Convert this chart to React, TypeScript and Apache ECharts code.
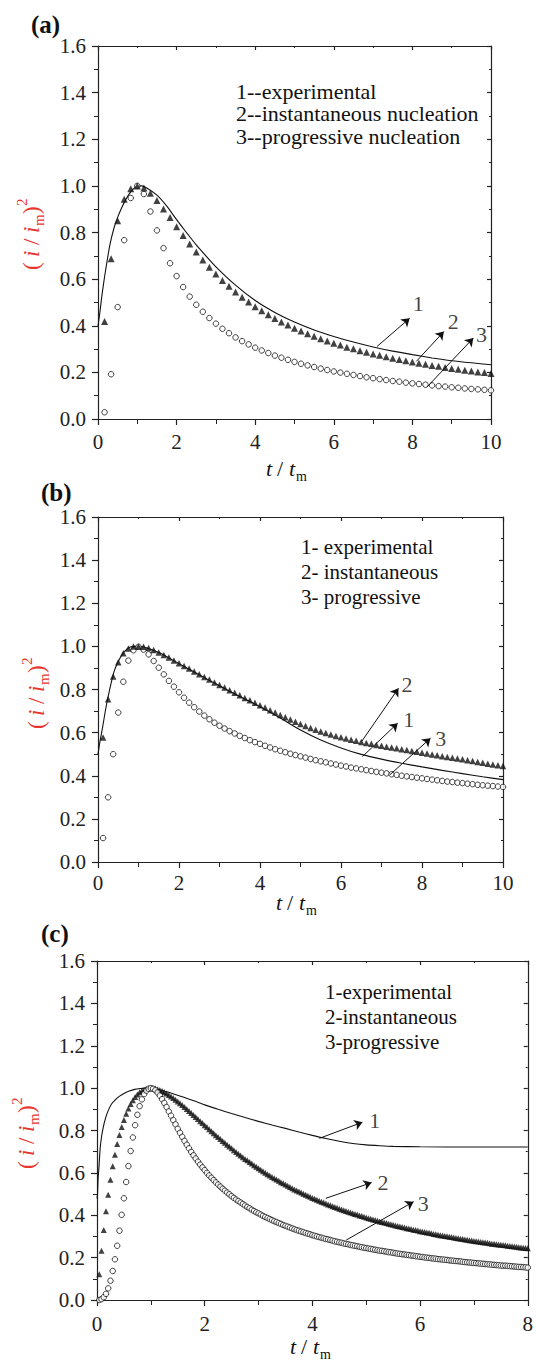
import { useEffect, useRef } from 'react';
import * as echarts from 'echarts';

// ---------- sampling times (uniform time grids of the theoretical curves) ----------
const tA = Array.from({ length: 60 }, (_, i) => (i + 1) / 6);
const tB = Array.from({ length: 80 }, (_, i) => (i + 1) / 8);
const tC = Array.from({ length: 192 }, (_, i) => (i + 1) / 24);

// ---------- panel (a) ----------
const instA = [
  0.418, 0.687, 0.850, 0.943, 0.988, 1.000, 0.991, 0.968, 0.937, 0.901,
  0.864, 0.825, 0.787, 0.751, 0.716, 0.682, 0.651, 0.622, 0.594, 0.569,
  0.545, 0.522, 0.502, 0.482, 0.464, 0.447, 0.431, 0.416, 0.403, 0.389,
  0.377, 0.366, 0.355, 0.344, 0.335, 0.325, 0.317, 0.308, 0.301, 0.293,
  0.286, 0.279, 0.273, 0.267, 0.261, 0.255, 0.250, 0.244, 0.239, 0.235,
  0.230, 0.226, 0.221, 0.217, 0.213, 0.209, 0.206, 0.202, 0.199, 0.195,
];
const progA = [
  0.029, 0.192, 0.480, 0.767, 0.948, 1.000, 0.965, 0.890, 0.809, 0.733,
  0.668, 0.613, 0.566, 0.525, 0.490, 0.460, 0.433, 0.409, 0.387, 0.368,
  0.350, 0.334, 0.320, 0.306, 0.294, 0.283, 0.272, 0.263, 0.254, 0.245,
  0.237, 0.230, 0.223, 0.216, 0.210, 0.204, 0.199, 0.194, 0.189, 0.184,
  0.179, 0.175, 0.171, 0.167, 0.163, 0.160, 0.156, 0.153, 0.150, 0.147,
  0.144, 0.141, 0.139, 0.136, 0.134, 0.131, 0.129, 0.127, 0.125, 0.123,
];
const expTA = [0, 0.05, 0.1, 0.15, 0.2, 0.3, 0.4, 0.5, 0.6, 0.7, 0.8, 0.9, 1.0, 1.1, 1.25, 1.5, 1.75, 2.0, 2.25, 2.5, 2.75, 3.0, 3.5, 4.0, 4.5, 5.0, 5.5, 6.0, 6.5, 7.0, 7.5, 8.0, 8.5, 9.0, 9.5, 10];
const expVA = [0.40, 0.46, 0.53, 0.59, 0.645, 0.745, 0.815, 0.865, 0.905, 0.94, 0.967, 0.987, 0.998, 1.0, 0.99, 0.96, 0.913, 0.855, 0.80, 0.747, 0.699, 0.653, 0.574, 0.508, 0.457, 0.416, 0.382, 0.354, 0.33, 0.309, 0.291, 0.276, 0.262, 0.25, 0.241, 0.233];
const arrowsA = [
  { from: [7.1, 0.311], to: [7.93, 0.432], label: '1', at: [8.15, 0.497] },
  { from: [8.1, 0.247], to: [8.8, 0.375], label: '2', at: [9.04, 0.418] },
  { from: [8.37, 0.137], to: [9.55, 0.347], label: '3', at: [9.76, 0.361] },
];

// ---------- panel (b) ----------
const instB = [
  0.577, 0.755, 0.860, 0.926, 0.968, 0.990, 0.999, 1.000,
  0.998, 0.992, 0.983, 0.972, 0.960, 0.948, 0.935, 0.922,
  0.909, 0.897, 0.884, 0.871, 0.858, 0.846, 0.833, 0.821,
  0.809, 0.797, 0.785, 0.773, 0.761, 0.750, 0.738, 0.727,
  0.716, 0.704, 0.693, 0.682, 0.671, 0.661, 0.650, 0.640,
  0.631, 0.622, 0.613, 0.605, 0.598, 0.591, 0.584, 0.578,
  0.573, 0.567, 0.562, 0.557, 0.552, 0.548, 0.543, 0.539,
  0.535, 0.531, 0.527, 0.523, 0.519, 0.515, 0.511, 0.507,
  0.503, 0.499, 0.495, 0.491, 0.487, 0.483, 0.480, 0.476,
  0.472, 0.468, 0.464, 0.460, 0.456, 0.452, 0.449, 0.445,
];
const progB = [
  0.111, 0.300, 0.500, 0.693, 0.836, 0.934, 0.982, 0.998,
  0.985, 0.963, 0.932, 0.901, 0.870, 0.840, 0.813, 0.787,
  0.762, 0.739, 0.718, 0.698, 0.679, 0.662, 0.646, 0.632,
  0.619, 0.607, 0.596, 0.585, 0.575, 0.565, 0.556, 0.548,
  0.539, 0.531, 0.523, 0.516, 0.509, 0.502, 0.496, 0.490,
  0.484, 0.478, 0.472, 0.467, 0.462, 0.457, 0.452, 0.447,
  0.443, 0.438, 0.434, 0.430, 0.426, 0.422, 0.418, 0.414,
  0.411, 0.407, 0.404, 0.400, 0.397, 0.394, 0.391, 0.388,
  0.385, 0.382, 0.379, 0.376, 0.373, 0.371, 0.368, 0.366,
  0.363, 0.361, 0.358, 0.356, 0.354, 0.352, 0.350, 0.348,
];
const expTB = [0, 0.05, 0.1, 0.2, 0.3, 0.4, 0.5, 0.6, 0.7, 0.8, 0.9, 1.0, 1.5, 2.0, 2.5, 3.0, 3.5, 4.0, 4.5, 5.0, 5.5, 6.0, 6.5, 7.0, 7.5, 8.0, 8.5, 9.0, 9.5, 10];
const expVB = [0.50, 0.56, 0.61, 0.72, 0.81, 0.885, 0.93, 0.963, 0.985, 0.997, 1.0, 1.0, 0.972, 0.92, 0.868, 0.817, 0.768, 0.72, 0.668, 0.612, 0.566, 0.529, 0.499, 0.477, 0.458, 0.441, 0.425, 0.41, 0.395, 0.382];
const arrowsB = [
  { from: [6.51, 0.559], to: [7.42, 0.806], label: '2', at: [7.63, 0.821] },
  { from: [6.53, 0.489], to: [7.40, 0.644], label: '1', at: [7.67, 0.659] },
  { from: [7.21, 0.405], to: [8.21, 0.574], label: '3', at: [8.46, 0.574] },
];

// ---------- panel (c) ----------
const instC = [
  0.122, 0.232, 0.330, 0.419, 0.497, 0.568, 0.631, 0.686, 0.736, 0.779, 0.817, 0.850,
  0.879, 0.904, 0.925, 0.943, 0.958, 0.970, 0.980, 0.988, 0.993, 0.997, 0.999, 1.000,
  0.999, 0.998, 0.995, 0.991, 0.986, 0.981, 0.975, 0.968, 0.961, 0.953, 0.945, 0.937,
  0.929, 0.920, 0.911, 0.901, 0.892, 0.883, 0.873, 0.864, 0.854, 0.844, 0.835, 0.825,
  0.816, 0.806, 0.797, 0.787, 0.778, 0.769, 0.760, 0.751, 0.742, 0.733, 0.724, 0.716,
  0.707, 0.699, 0.690, 0.682, 0.674, 0.666, 0.659, 0.651, 0.644, 0.636, 0.629, 0.622,
  0.615, 0.608, 0.601, 0.594, 0.588, 0.581, 0.575, 0.569, 0.563, 0.556, 0.551, 0.545,
  0.539, 0.533, 0.528, 0.522, 0.517, 0.512, 0.507, 0.502, 0.497, 0.492, 0.487, 0.482,
  0.478, 0.473, 0.468, 0.464, 0.460, 0.455, 0.451, 0.447, 0.443, 0.439, 0.435, 0.431,
  0.427, 0.424, 0.420, 0.416, 0.413, 0.409, 0.406, 0.403, 0.399, 0.396, 0.393, 0.389,
  0.386, 0.383, 0.380, 0.377, 0.374, 0.371, 0.368, 0.366, 0.363, 0.360, 0.357, 0.355,
  0.352, 0.349, 0.347, 0.344, 0.342, 0.339, 0.337, 0.335, 0.332, 0.330, 0.328, 0.325,
  0.323, 0.321, 0.319, 0.317, 0.315, 0.312, 0.310, 0.308, 0.306, 0.304, 0.302, 0.301,
  0.299, 0.297, 0.295, 0.293, 0.291, 0.289, 0.288, 0.286, 0.284, 0.282, 0.281, 0.279,
  0.277, 0.276, 0.274, 0.273, 0.271, 0.270, 0.268, 0.266, 0.265, 0.263, 0.262, 0.261,
  0.259, 0.258, 0.256, 0.255, 0.254, 0.252, 0.251, 0.249, 0.248, 0.247, 0.246, 0.244,
];
const progC = [
  0.000, 0.004, 0.013, 0.029, 0.055, 0.091, 0.137, 0.192, 0.256, 0.327, 0.402, 0.480,
  0.557, 0.632, 0.703, 0.767, 0.825, 0.874, 0.915, 0.947, 0.972, 0.988, 0.997, 1.000,
  0.997, 0.990, 0.979, 0.965, 0.948, 0.930, 0.911, 0.890, 0.870, 0.849, 0.829, 0.808,
  0.789, 0.770, 0.751, 0.733, 0.716, 0.699, 0.683, 0.668, 0.653, 0.639, 0.626, 0.613,
  0.600, 0.588, 0.577, 0.566, 0.555, 0.545, 0.535, 0.525, 0.516, 0.507, 0.499, 0.490,
  0.482, 0.474, 0.467, 0.460, 0.453, 0.446, 0.439, 0.433, 0.426, 0.420, 0.414, 0.409,
  0.403, 0.397, 0.392, 0.387, 0.382, 0.377, 0.372, 0.368, 0.363, 0.359, 0.354, 0.350,
  0.346, 0.342, 0.338, 0.334, 0.330, 0.327, 0.323, 0.320, 0.316, 0.313, 0.310, 0.306,
  0.303, 0.300, 0.297, 0.294, 0.291, 0.288, 0.286, 0.283, 0.280, 0.277, 0.275, 0.272,
  0.270, 0.267, 0.265, 0.263, 0.260, 0.258, 0.256, 0.254, 0.251, 0.249, 0.247, 0.245,
  0.243, 0.241, 0.239, 0.237, 0.235, 0.233, 0.232, 0.230, 0.228, 0.226, 0.225, 0.223,
  0.221, 0.219, 0.218, 0.216, 0.215, 0.213, 0.212, 0.210, 0.209, 0.207, 0.206, 0.204,
  0.203, 0.201, 0.200, 0.199, 0.197, 0.196, 0.195, 0.193, 0.192, 0.191, 0.190, 0.189,
  0.187, 0.186, 0.185, 0.184, 0.183, 0.182, 0.180, 0.179, 0.178, 0.177, 0.176, 0.175,
  0.174, 0.173, 0.172, 0.171, 0.170, 0.169, 0.168, 0.167, 0.166, 0.165, 0.164, 0.163,
  0.162, 0.162, 0.161, 0.160, 0.159, 0.158, 0.157, 0.156, 0.156, 0.155, 0.154, 0.153,
];
const expTC = [0, 0.01, 0.02, 0.04, 0.06, 0.09, 0.12, 0.16, 0.21, 0.27, 0.34, 0.42, 0.5, 0.6, 0.7, 0.8, 0.9, 1.0, 1.2, 1.4, 1.6, 1.8, 2.0, 2.25, 2.5, 2.75, 3.0, 3.25, 3.5, 3.75, 4.0, 4.25, 4.5, 4.75, 5.0, 5.25, 5.5, 6.0, 7.0, 8.0];
const expVC = [0.48, 0.50, 0.57, 0.64, 0.72, 0.78, 0.82, 0.86, 0.895, 0.925, 0.945, 0.962, 0.975, 0.986, 0.994, 0.998, 1.0, 1.0, 0.99, 0.975, 0.958, 0.94, 0.921, 0.90, 0.88, 0.861, 0.843, 0.826, 0.81, 0.793, 0.777, 0.762, 0.749, 0.739, 0.732, 0.728, 0.725, 0.723, 0.722, 0.722];
const arrowsC = [
  { from: [4.13, 0.763], to: [4.93, 0.839], label: '1', at: [5.16, 0.845] },
  { from: [4.25, 0.480], to: [5.10, 0.554], label: '2', at: [5.31, 0.554] },
  { from: [4.63, 0.283], to: [5.88, 0.464], label: '3', at: [6.06, 0.456] },
];

const yTicks = [0, 1.6, 0.2];
const legendA = ['1--experimental', '2--instantaneous nucleation', '3--progressive nucleation'];
const legendB = ['1- experimental', '2- instantaneous', '3- progressive'];
const legendC = ['1-experimental', '2-instantaneous', '3-progressive'];

const FONT = 'Liberation Serif';
const AX = '#222';
const RED = '#e8352d';

const zip = (xs: number[], ys: number[]) => ys.map((v, i) => [xs[i], v]);

function App() {
  const ref = useRef<HTMLDivElement>(null);
  useEffect(() => {
    if (!ref.current) return;
    const chart = echarts.init(ref.current, null, { renderer: 'svg' });

    const panels = [
      { grid: { left: 98, top: 46, width: 393, height: 373 }, xmax: 10, inst: instA, prog: progA, t: tA, expT: expTA, expV: expVA, arrows: arrowsA, triSize: 7, circSize: 5.5, circTop: false, lblMargin: 12 },
      { grid: { left: 98, top: 517, width: 405, height: 345 }, xmax: 10, inst: instB, prog: progB, t: tB, expT: expTB, expV: expVB, arrows: arrowsB, triSize: 6.5, circSize: 5.5, circTop: false, lblMargin: 10 },
      { grid: { left: 97, top: 961, width: 436, height: 339 }, xmax: 8, inst: instC, prog: progC, t: tC, expT: expTC, expV: expVC, arrows: arrowsC, triSize: 6, circSize: 5.5, circTop: true, lblMargin: 13 },
    ];

    const grid: any[] = [];
    const xAxis: any[] = [];
    const yAxis: any[] = [];
    const series: any[] = [];

    panels.forEach((p, gi) => {
      grid.push({ ...p.grid, containLabel: false });
      const lineStyle = { color: AX, width: 1.2 };
      xAxis.push({
        type: 'value', gridIndex: gi, min: 0, max: p.xmax, interval: 2, position: 'bottom',
        axisLine: { show: true, onZero: false, lineStyle },
        axisTick: { show: true, length: 6, lineStyle },
        minorTick: { show: true, splitNumber: 2, length: 5, lineStyle: { color: AX, width: 1 } },
        axisLabel: { fontFamily: FONT, fontSize: 21, color: AX, margin: p.lblMargin },
        splitLine: { show: false },
      });
      xAxis.push({
        type: 'value', gridIndex: gi, min: 0, max: p.xmax, interval: 2, position: 'top',
        axisLine: { show: true, onZero: false, lineStyle },
        axisTick: { show: true, inside: true, length: 4, lineStyle },
        minorTick: { show: true, splitNumber: 2, length: 2, lineStyle: { color: AX, width: 1 } },
        axisLabel: { show: false }, splitLine: { show: false },
      });
      yAxis.push({
        type: 'value', gridIndex: gi, min: yTicks[0], max: yTicks[1], interval: yTicks[2], position: 'left',
        axisLine: { show: true, onZero: false, lineStyle },
        axisTick: { show: true, length: 6, lineStyle },
        minorTick: { show: true, splitNumber: 2, length: 4, lineStyle: { color: AX, width: 1 } },
        axisLabel: { fontFamily: FONT, fontSize: 21, color: AX, margin: 12, formatter: (v: number) => v.toFixed(1) },
        splitLine: { show: false },
      });
      yAxis.push({
        type: 'value', gridIndex: gi, min: yTicks[0], max: yTicks[1], interval: yTicks[2], position: 'right',
        axisLine: { show: true, onZero: false, lineStyle },
        axisTick: { show: true, inside: true, length: 4, lineStyle },
        minorTick: { show: true, splitNumber: 2, length: 2, lineStyle: { color: AX, width: 1 } },
        axisLabel: { show: false }, splitLine: { show: false },
      });
      const xi = gi * 2;
      const yi = gi * 2;
      series.push({
        type: 'line', xAxisIndex: xi, yAxisIndex: yi, data: zip(p.expT, p.expV),
        showSymbol: false, smooth: 0.25, silent: true, z: 2,
        lineStyle: { color: '#111', width: 1.1 },
      });
      series.push({
        type: 'scatter', xAxisIndex: xi, yAxisIndex: yi, data: zip(p.t, p.inst),
        symbol: 'triangle', symbolSize: p.triSize, silent: true, z: p.circTop ? 3 : 4,
        itemStyle: { color: '#111' },
      });
      series.push({
        type: 'scatter', xAxisIndex: xi, yAxisIndex: yi, data: zip(p.t, p.prog),
        symbol: 'circle', symbolSize: p.circSize, silent: true, z: p.circTop ? 4 : 3,
        itemStyle: { color: '#fff', borderColor: '#111', borderWidth: 1 },
      });
      series.push({
        type: 'scatter', xAxisIndex: xi, yAxisIndex: yi, silent: true, z: 5,
        data: p.arrows.map((a) => ({ value: a.at, name: a.label })),
        symbolSize: 0, itemStyle: { color: 'rgba(0,0,0,0)' },
        label: { show: true, position: 'inside', formatter: '{b}', fontFamily: FONT, fontSize: 22, color: '#111' },
        markLine: {
          silent: true, symbol: ['none', 'arrow'], symbolSize: 8,
          lineStyle: { color: '#111', width: 1, type: 'solid' },
          label: { show: false },
          data: p.arrows.map((a) => [{ coord: a.from }, { coord: a.to }]),
        },
      });
    });

    const txt = (x: number, y: number, text: string, extra: any = {}) => ({
      type: 'text', x, y, silent: true,
      style: { text, fontFamily: FONT, fontSize: 21, fill: '#111', ...extra },
    });
    // rotated y-axis name, built of plain pieces: (i / i_m)^2 read bottom-to-top
    const yName = (cx: number, cy: number) => {
      const base = cy + 34;
      const mk = (dx: number, along: number, text: string, size: number, italic: boolean) => ({
        type: 'text', x: cx + dx - size * 0.62, y: base - along, silent: true, rotation: Math.PI / 2,
        style: { text, fontFamily: FONT, fontSize: size, fill: RED, fontStyle: italic ? 'italic' : 'normal' },
      });
      return [
        mk(0, 0, '( ', 23, false),
        mk(0, 13, 'i', 23, true),
        mk(0, 25, '/', 23, false),
        mk(0, 37, 'i', 23, true),
        mk(7, 44, 'm', 15, false),
        mk(0, 56, ')', 23, false),
        mk(-10, 64, '2', 15, false),
      ];
    };
    const xName = (cx: number, cy: number) => {
      const top = cy - 13;
      return [
        { type: 'text', x: cx - 24, y: top, silent: true, style: { text: 't', fontFamily: FONT, fontSize: 22, fontStyle: 'italic', fill: '#111' } },
        { type: 'text', x: cx - 13, y: top, silent: true, style: { text: '/', fontFamily: FONT, fontSize: 22, fill: '#111' } },
        { type: 'text', x: cx - 1, y: top, silent: true, style: { text: 't', fontFamily: FONT, fontSize: 22, fontStyle: 'italic', fill: '#111' } },
        { type: 'text', x: cx + 6, y: top + 12, silent: true, style: { text: 'm', fontFamily: FONT, fontSize: 14, fill: '#111' } },
      ];
    };

    const graphic: any[] = [
      txt(31, 12, '(a)', { fontWeight: 'bold', fontSize: 25 }),
      txt(41, 480, '(b)', { fontWeight: 'bold', fontSize: 25 }),
      txt(41, 921, '(c)', { fontWeight: 'bold', fontSize: 25 }),
      ...legendA.map((s, i) => txt(236, 80 + i * 22.5, s, { fontSize: 22 })),
      ...legendB.map((s, i) => txt(301, 536 + i * 25, s, { fontSize: 21 })),
      ...legendC.map((s, i) => txt(325, 981 + i * 25, s, { fontSize: 21 })),
      ...yName(34, 236), ...yName(39, 695), ...yName(29, 1135),
      ...xName(290, 470), ...xName(300, 904), ...xName(314, 1348),
    ];

    chart.setOption({
      animation: false,
      textStyle: { fontFamily: FONT },
      grid, xAxis, yAxis, series, graphic,
    });
    return () => chart.dispose();
  }, []);
  return <div ref={ref} style={{ position: 'absolute', left: 0, top: 0, width: 536, height: 1361, background: '#fff' }} />;
}

export default App;
